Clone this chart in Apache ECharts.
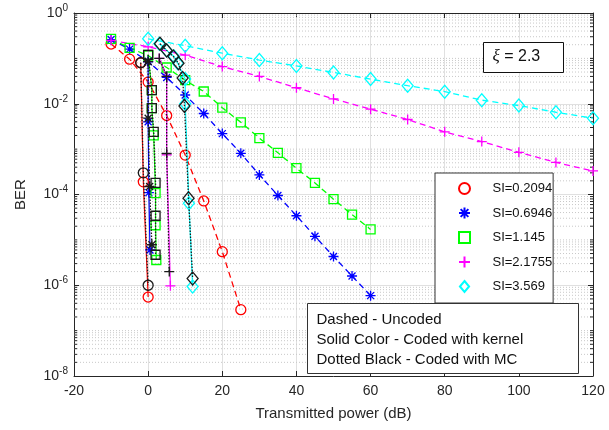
<!DOCTYPE html>
<html>
<head>
<meta charset="utf-8">
<script src="https://cdn.jsdelivr.net/npm/echarts@6/dist/echarts.min.js"></script>
<style>
  html, body { margin: 0; padding: 0; background: #fff; }
  #chart { width: 609px; height: 430px; }
</style>
</head>
<body>
<div id="chart"></div>
<script>
// uncoded (dashed)
var redX = [-10, -5, 0, 5, 10, 15, 20, 25];
var redY = [0.207, 0.096, 0.030, 5.5e-3, 7.4e-4, 7.2e-5, 5.5e-6, 2.9e-7];
var blueX = [-10, -5, 0, 5, 10, 15, 20, 25, 30, 35, 40, 45, 50, 55, 60];
var blueY = [0.26, 0.16, 0.085, 0.038, 0.0156, 6.1e-3, 2.2e-3, 8.1e-4, 2.7e-4, 9.5e-5, 3.4e-5, 1.2e-5, 4.3e-6, 1.6e-6, 5.9e-7];
var greenX = [-10, -5, 0, 5, 10, 15, 20, 25, 30, 35, 40, 45, 50, 55, 60];
var greenY = [0.27, 0.17, 0.115, 0.063, 0.033, 0.0186, 8.2e-3, 3.9e-3, 1.75e-3, 8.3e-4, 3.8e-4, 1.8e-4, 7.9e-5, 3.6e-5, 1.7e-5];
var magX = [-10, 0, 10, 20, 30, 40, 50, 60, 70, 80, 90, 100, 110, 120];
var magY = [0.25, 0.18, 0.118, 0.066, 0.040, 0.0225, 0.0128, 7.6e-3, 4.5e-3, 2.4e-3, 1.47e-3, 8.5e-4, 5.1e-4, 3.3e-4];
var cyanX = [0, 10, 20, 30, 40, 50, 60, 70, 80, 90, 100, 110, 120];
var cyanY = [0.27, 0.19, 0.13, 0.092, 0.068, 0.049, 0.035, 0.025, 0.0185, 0.012, 9.1e-3, 6.5e-3, 4.8e-3];

// coded with kernel (solid colour)
var kRedX = [-2, -1.3, 0];
var kRedY = [0.08, 1.9e-4, 5.5e-7];
var kBlueX = [0, 0, 0.2, 0.5];
var kBlueY = [0.085, 4e-3, 1.1e-4, 6e-6];
var kGreenX = [0, 1, 1, 1.5, 2, 2, 2.2];
var kGreenY = [0.12, 0.02, 8e-3, 2e-3, 1.07e-4, 2.1e-5, 3.6e-6];
var kMagX = [3, 5, 5, 6];
var kMagY = [0.1, 0.04, 7.5e-4, 9.7e-7];
var kCyanX = [3, 5, 7, 8, 10, 10, 11, 12];
var kCyanY = [0.21, 0.15, 0.11, 0.078, 0.035, 0.01, 6.4e-5, 9.4e-7];

// coded with MC (dotted black)
var mRedX = [-2, -1.3, 0];
var mRedY = [0.08, 3e-4, 1e-6];
var mBlueX = [0, 0, 0.4, 1];
var mBlueY = [0.085, 4.8e-3, 1.5e-4, 7.8e-6];
var mGreenX = [0, 1, 1, 1.5, 2, 2, 2];
var mGreenY = [0.12, 0.02, 8e-3, 2.4e-3, 1.8e-4, 3.4e-5, 4.7e-6];
var mMagX = [3, 5, 5, 5.7];
var mMagY = [0.1, 0.04, 8e-4, 2e-6];
var mCyanX = [3.2, 5, 6.8, 8.2, 9.3, 9.8, 10.9, 12];
var mCyanY = [0.21, 0.15, 0.11, 0.078, 0.037, 8.9e-3, 8.3e-5, 1.4e-6];

var siNames = ['SI=0.2094', 'SI=0.6946', 'SI=1.145', 'SI=2.1755', 'SI=3.569'];

var PLUS = 'path://M0,5L10,5M5,0L5,10';
var STAR = 'path://M0,5L10,5M5,0L5,10M1.5,1.5L8.5,8.5M1.5,8.5L8.5,1.5';
var SQUARE = 'path://M0,0L10,0L10,10L0,10Z';
var DIAMOND = 'path://M5,0L10,6L5,12L0,6Z';

function zip (xs, ys) {
    return xs.map(function (x, i) { return [x, ys[i]]; });
}

// minor grid lines / ticks (1..9 of each decade, majors every 2 decades excluded)
var minorVals = [];
for (var e = -8; e < 0; e++) {
    for (var k = 1; k <= 9; k++) {
        if (k == 1 && e % 2 == 0) continue;
        minorVals.push(k * Math.pow(10, e));
    }
}

function mk (name, xs, ys, color, symbol, size, dash, z) {
    return {
        name: name,
        type: 'line',
        data: zip(xs, ys),
        symbol: symbol,
        symbolSize: size,
        showAllSymbol: true,
        z: z,
        itemStyle: { color: 'transparent', borderColor: color, borderWidth: 1.3 },
        lineStyle: { color: color, width: dash == 'solid' ? 1.2 : 1.3, type: dash },
        emphasis: { disabled: true },
        animation: false
    };
}

var chart = echarts.init(document.getElementById('chart'));
var sym = ['circle', STAR, SQUARE, PLUS, DIAMOND];
var sizes = [10, 10, 9, 10, [11, 13]];
var cols = ['#ff0000', '#0000ff', '#00ff00', '#ff00ff', '#00ffff'];
var unc = [[redX, redY], [blueX, blueY], [greenX, greenY], [magX, magY], [cyanX, cyanY]];
var ker = [[kRedX, kRedY], [kBlueX, kBlueY], [kGreenX, kGreenY], [kMagX, kMagY], [kCyanX, kCyanY]];
var mc = [[mRedX, mRedY], [mBlueX, mBlueY], [mGreenX, mGreenY], [mMagX, mMagY], [mCyanX, mCyanY]];

var series = [{
    name: 'minor grid',
    type: 'custom',
    silent: true,
    z: 1,
    data: minorVals.map(function (v) { return [-20, v]; }),
    renderItem: function (params, api) {
        var p = api.coord([api.value(0), api.value(1)]);
        var cs = params.coordSys;
        var x0 = cs.x, x1 = cs.x + cs.width;
        return {
            type: 'group',
            children: [{
                type: 'line',
                shape: { x1: x0, y1: p[1], x2: x1, y2: p[1] },
                style: { stroke: '#c8c8c8', lineWidth: 1, lineDash: [1, 2] }
            }, {
                type: 'line',
                shape: { x1: x0, y1: p[1], x2: x0 + 3, y2: p[1] },
                style: { stroke: '#262626', lineWidth: 1 }
            }, {
                type: 'line',
                shape: { x1: x1 - 3, y1: p[1], x2: x1, y2: p[1] },
                style: { stroke: '#262626', lineWidth: 1 }
            }]
        };
    }
}];
for (var i = 0; i < 5; i++) {
    series.push(mk(siNames[i], unc[i][0], unc[i][1], cols[i], sym[i], sizes[i], [6, 4], 3));
}
for (var i = 0; i < 5; i++) {
    series.push(mk('kernel ' + i, ker[i][0], ker[i][1], cols[i], sym[i], sizes[i], 'solid', 4));
}
for (var i = 0; i < 5; i++) {
    series.push(mk('mc ' + i, mc[i][0], mc[i][1], '#1a1a1a', sym[i], sizes[i], [1.5, 1.5], 5));
}

var axisCol = '#262626';
var option = {
    backgroundColor: '#fff',
    animation: false,
    textStyle: { fontFamily: 'Liberation Sans' },
    grid: { left: 74, top: 13, right: 16, bottom: 54 },
    xAxis: [{
        type: 'value', min: -20, max: 120, interval: 20,
        axisLine: { onZero: false, lineStyle: { color: axisCol } },
        axisTick: { inside: true, length: 5, lineStyle: { color: axisCol } },
        axisLabel: { color: '#262626', fontSize: 14, margin: 8 },
        splitLine: { show: true, lineStyle: { color: '#e0e0e0' } },
        name: 'Transmitted power (dB)', nameLocation: 'middle', nameGap: 30,
        nameTextStyle: { color: '#262626', fontSize: 15 }
    }, {
        type: 'value', min: -20, max: 120, interval: 20, position: 'top',
        axisLine: { onZero: false, lineStyle: { color: axisCol } },
        axisTick: { inside: true, length: 5, lineStyle: { color: axisCol } },
        axisLabel: { show: false }, splitLine: { show: false }
    }],
    yAxis: [{
        type: 'log', logBase: 10, min: 1e-8, max: 1, interval: 2,
        axisLine: { onZero: false, lineStyle: { color: axisCol } },
        axisTick: { inside: true, length: 5, lineStyle: { color: axisCol } },
        axisLabel: {
            color: '#262626', fontSize: 14, margin: 6,
            formatter: function (v) { return '10{s|' + Math.round(Math.log10(v)) + '}'; },
            rich: { s: { fontSize: 10, padding: [0, 0, 10, 0], color: '#262626' } }
        },
        splitLine: { show: true, lineStyle: { color: '#e0e0e0' } },
        name: 'BER', nameLocation: 'middle', nameGap: 46,
        nameTextStyle: { color: '#262626', fontSize: 15 }
    }, {
        type: 'log', logBase: 10, min: 1e-8, max: 1, interval: 2, position: 'right',
        axisLine: { onZero: false, lineStyle: { color: axisCol } },
        axisTick: { inside: true, length: 5, lineStyle: { color: axisCol } },
        axisLabel: { show: false }, splitLine: { show: false }
    }],
    legend: {
        data: siNames.map(function (n, i) { return { name: n, icon: sym[i] }; }),
        orient: 'vertical',
        left: 435, top: 173,
        padding: [9, 1, 10, 23],
        itemWidth: 46, itemHeight: 11,
        itemGap: 11.5,
        backgroundColor: '#fff',
        borderColor: '#333', borderWidth: 1,
        selectedMode: false,
        z: 50,
        textStyle: { fontSize: 13, color: '#111' }
    },
    graphic: [{
        type: 'group', left: 483, top: 42,
        children: [{
            type: 'rect', z: 100, shape: { width: 80, height: 30 },
            style: { fill: '#fff', stroke: '#111', lineWidth: 1 }
        }, {
            type: 'text', z: 101, left: 9, top: 6,
            style: {
                text: '{i|ξ} = 2.3', fill: '#111', font: '16px Liberation Sans',
                rich: { i: { fontStyle: 'italic', fontFamily: 'Liberation Serif', fontSize: 17 } }
            }
        }]
    }, {
        type: 'group', left: 307, top: 303,
        children: [{
            type: 'rect', z: 100, shape: { width: 271, height: 70 },
            style: { fill: '#fff', stroke: '#333', lineWidth: 1 }
        }, {
            type: 'text', z: 101, left: 9, top: 6,
            style: {
                text: 'Dashed - Uncoded\nSolid Color - Coded with kernel\nDotted Black - Coded with MC',
                fill: '#111', font: '15px Liberation Sans', lineHeight: 20
            }
        }]
    }],
    series: series
};
chart.setOption(option);
</script>
</body>
</html>
